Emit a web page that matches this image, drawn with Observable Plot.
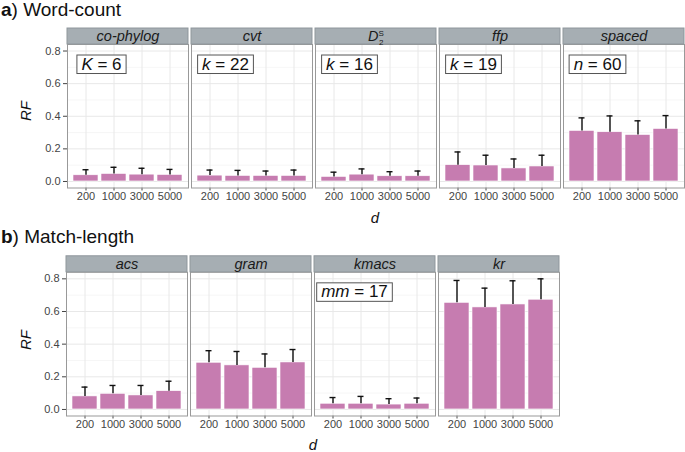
<!DOCTYPE html>
<html><head><meta charset="utf-8">
<script src="https://cdn.jsdelivr.net/npm/d3@7"></script>
<script src="https://cdn.jsdelivr.net/npm/@observablehq/plot@0.6"></script>
<style>
body{margin:0;background:#fff;font-family:"Liberation Sans",Arial,Helvetica,sans-serif;}
#wrap{position:relative;width:685px;height:452px;overflow:hidden;background:#fff;}
.abs{position:absolute;}
.title{font-size:19px;line-height:20px;color:#111;white-space:nowrap;z-index:2;}
.axt{font-size:15px;font-style:italic;color:#111;line-height:16px;white-space:nowrap;transform:translate(-50%,-50%);z-index:2;}
</style></head><body><div id="wrap"></div>
<script>
// ---- data ----
const dLevels = ["200", "1000", "3000", "5000"];

const wcMethods = ["co-phylog", "cvt", "D2S", "ffp", "spaced"];
const wcRF = [
  [0.038, 0.046, 0.042, 0.040],
  [0.036, 0.034, 0.034, 0.034],
  [0.028, 0.042, 0.032, 0.032],
  [0.100, 0.098, 0.080, 0.092],
  [0.310, 0.302, 0.285, 0.322]
];
const wcUpper = [
  [0.072, 0.087, 0.081, 0.074],
  [0.070, 0.068, 0.064, 0.070],
  [0.057, 0.077, 0.060, 0.064],
  [0.181, 0.161, 0.138, 0.161],
  [0.390, 0.402, 0.372, 0.404]
];
const wcParamMethods = ["co-phylog", "cvt", "D2S", "ffp", "spaced"];
const wcParams = ["K = 6", "k = 22", "k = 16", "k = 19", "n = 60"];

const mlMethods = ["acs", "gram", "kmacs", "kr"];
const mlRF = [
  [0.080, 0.096, 0.086, 0.112],
  [0.286, 0.270, 0.255, 0.288],
  [0.035, 0.035, 0.030, 0.035],
  [0.653, 0.625, 0.643, 0.672]
];
const mlUpper = [
  [0.137, 0.147, 0.147, 0.173],
  [0.360, 0.355, 0.340, 0.367],
  [0.073, 0.080, 0.066, 0.070],
  [0.790, 0.743, 0.788, 0.800]
];
const mlParamMethods = ["kmacs"];
const mlParams = ["mm = 17"];

const yMajor = [0, 0.2, 0.4, 0.6, 0.8];
const yMinor = [0.1, 0.3, 0.5, 0.7];

// ---- drawing ----
const wrap = document.getElementById("wrap");

function panel(o) {
  const rows = o.methods.flatMap((m, i) => dLevels.map((d, j) => ({method: m, d, rf: o.rf[i][j], upper: o.upper[i][j]})));
  const prm = o.paramMethods.map((m, i) => ({method: m, label: o.params[i]}));
  const svg = Plot.plot({
    width: 685, height: o.height,
    marginLeft: 66, marginRight: o.marginRight, marginTop: o.marginTop, marginBottom: o.marginBottom,
    style: {fontFamily: "'Liberation Sans', Arial, sans-serif", fontSize: "11px", color: "#444", background: "transparent", overflow: "visible"},
    fx: {domain: o.methods, paddingInner: 0.0242, paddingOuter: 0, axis: null, label: null},
    x: {domain: dLevels, paddingInner: 0.1, paddingOuter: 0.14, tickSize: 3, tickPadding: 1, label: null},
    y: {domain: [-0.04, 0.84], ticks: yMajor, tickFormat: ".1f", tickSize: 4, tickPadding: 3, label: null},
    marks: [
      Plot.ruleY(yMinor, {y: d => d, stroke: "#F4F4F4", strokeWidth: 0.8}),
      Plot.ruleY(yMajor, {y: d => d, stroke: "#E8E8E8", strokeWidth: 1}),
      Plot.ruleX(dLevels, {x: d => d, stroke: "#E8E8E8", strokeWidth: 1}),
      Plot.barY(rows, {fx: "method", x: "d", y: "rf", fill: "#C67CB0", stroke: "#fff", strokeWidth: 0.6}),
      Plot.ruleX(rows, {fx: "method", x: "d", y1: "rf", y2: "upper", stroke: "#111", strokeWidth: 1.4}),
      Plot.tickY(rows, {fx: "method", x: "d", y: "upper", stroke: "#111", strokeWidth: 1.4, insetLeft: 9.5, insetRight: 9.5}),
      Plot.frame({stroke: "#999", strokeWidth: 1}),
      Plot.rect(o.methods, {fx: d => d, y1: 0.84, y2: 0.84 + 16 / 163.2, fill: "#A6AEB3", stroke: "#8F979C", strokeWidth: 1}),
      Plot.text(o.methods, {fx: d => d, y: 0.84 + 8 / 163.2, text: d => d, frameAnchor: "middle", fontSize: 14.5, fontStyle: "italic", fill: "#1a1a1a"}),
      Plot.text(prm, {fx: "method", y: 0.72, text: "label", frameAnchor: "left", dx: o.paramDx, textAnchor: "middle", fontSize: 17, fill: "#111"})
    ]
  });
  svg.style.position = "absolute";
  svg.style.left = "0px";
  svg.style.top = o.top + "px";
  wrap.appendChild(svg);

  d3.select(svg).selectAll("text").each(function () {
    const t = d3.select(this);
    const s = t.text();
    if (s === "D2S") {
      // strip label with superscript S and subscript 2
      t.text("");
      t.append("tspan").text("D");
      t.append("tspan").attr("font-size", 8).attr("font-style", "normal").attr("dy", -5).text("S");
      t.append("tspan").attr("font-size", 8).attr("font-style", "normal").attr("dx", -5).attr("dy", 9).text("2");
    } else if (s.includes(" = ")) {
      // parameter label in a box, symbol in italics
      const [a, b] = s.split(" = ");
      t.text("");
      t.append("tspan").attr("font-style", "italic").text(a);
      t.append("tspan").text(" = " + b);
      const bb = this.getBBox();
      const r = document.createElementNS("http://www.w3.org/2000/svg", "rect");
      r.setAttribute("x", bb.x - 4.5);
      r.setAttribute("y", bb.y + 0.5);
      r.setAttribute("width", bb.width + 9);
      r.setAttribute("height", bb.height - 0.5);
      r.setAttribute("fill", "#fff");
      r.setAttribute("stroke", "#555");
      r.setAttribute("stroke-width", 1);
      const tr = this.getAttribute("transform");
      if (tr) r.setAttribute("transform", tr);
      this.parentNode.insertBefore(r, this);
    }
  });
}

panel({methods: wcMethods, rf: wcRF, upper: wcUpper, paramMethods: wcParamMethods, params: wcParams,
  top: 0, height: 228, marginTop: 44, marginBottom: 40.5, marginRight: 1, paramDx: 34});
panel({methods: mlMethods, rf: mlRF, upper: mlUpper, paramMethods: mlParamMethods, params: mlParams,
  top: 228, height: 224, marginTop: 43.8, marginBottom: 36.5, marginRight: 125.2, paramDx: 40});

function addDiv(cls, html, css) {
  const el = document.createElement("div");
  el.className = "abs " + cls;
  el.innerHTML = html;
  Object.assign(el.style, css);
  wrap.appendChild(el);
}
addDiv("title", "<b>a</b>) Word-count", {left: "1px", top: "0px"});
addDiv("title", "<b>b</b>) Match-length", {left: "1px", top: "226.6px"});
addDiv("axt", "RF", {left: "26px", top: "111px", transform: "translate(-50%,-50%) rotate(-90deg)"});
addDiv("axt", "RF", {left: "26px", top: "340px", transform: "translate(-50%,-50%) rotate(-90deg)"});
addDiv("axt", "d", {left: "375px", top: "218px"});
addDiv("axt", "d", {left: "313px", top: "445px"});
</script>
</body></html>
